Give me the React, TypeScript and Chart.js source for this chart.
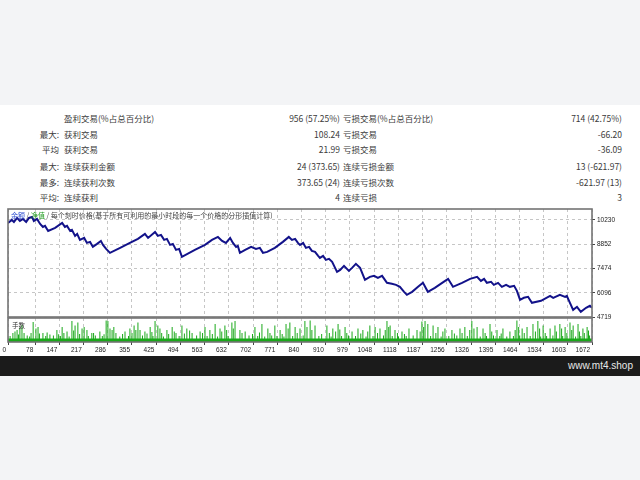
import React, { useEffect, useRef } from "react";
import { Chart, registerables } from "chart.js";

Chart.register(...registerables);

// ---------- data ----------
const xTickValues = [0, 78, 147, 217, 286, 355, 425, 494, 563, 632, 702, 771, 840, 910, 979, 1048, 1118, 1187, 1256, 1326, 1395, 1464, 1534, 1603, 1672];
const yTickValues = [4719, 6096, 7474, 8852, 10230];

const tradeNo = [
  0, 11, 17, 26, 34, 43, 52, 60, 69, 74,
  83, 92, 100, 106, 115, 135, 155, 163, 169, 178,
  183, 192, 198, 206, 218, 226, 235, 243, 255, 266,
  272, 281, 292, 321, 349, 372, 392, 401, 421, 429,
  438, 447, 455, 464, 472, 481, 490, 498, 535, 564,
  584, 601, 613, 624, 636, 644, 653, 658, 664, 679,
  696, 710, 721, 730, 742, 764, 787, 804, 813, 822,
  830, 836, 845, 853, 862, 870, 879, 888, 893, 902,
  910, 919, 928, 942, 951, 962, 976, 985, 996, 1008,
  1022, 1036, 1048, 1059, 1071, 1085, 1099, 1111, 1122, 1134,
  1142, 1157, 1174, 1188, 1202, 1222, 1243, 1260, 1274, 1300,
  1323, 1343, 1354, 1363, 1371, 1383, 1391, 1403, 1414, 1426,
  1437, 1449, 1457, 1466, 1477, 1489, 1500, 1526, 1552, 1561,
  1580, 1595, 1600, 1605, 1618, 1629, 1640, 1655, 1666, 1672,
];
const balance = [
  10060, 10230, 10117, 10343, 10173, 10287, 10117, 10343, 10400, 10173,
  10287, 10003, 9833, 9890, 9606, 9776, 10060, 9833, 9890, 9606,
  9663, 9323, 9436, 9096, 9209, 8926, 8983, 8699, 8869, 9039,
  8813, 8586, 8359, 8642, 8926, 9153, 9436, 9209, 9550, 9323,
  9380, 9096, 9153, 8813, 8869, 8529, 8586, 8132, 8529, 8813,
  9096, 9266, 9039, 8926, 9209, 8926, 8699, 8756, 8359, 8529,
  8699, 8586, 8642, 8359, 8416, 8642, 8983, 9266, 9096, 9153,
  8926, 8813, 8926, 8642, 8699, 8472, 8416, 8189, 8075, 8189,
  7962, 8019, 7849, 7282, 7395, 7622, 7338, 7508, 7735, 7508,
  6828, 6998, 7055, 6941, 7055, 6658, 6601, 6545, 6431, 6148,
  5978, 6148, 6431, 6658, 6148, 6374, 6658, 6885, 6431, 6658,
  6885, 6998, 6771, 6885, 6658, 6715, 6545, 6658, 6431, 6545,
  6431, 6488, 6204, 5694, 5808, 5865, 5524, 5638, 5921, 5808,
  5978, 5865, 5921, 5694, 5127, 5297, 5014, 5240, 5354, 5240,
];

// [trade number, lots]
const lotSpikes: [number, number][] = [
  [14, 0.3], [26, 0.4], [34, 0.47], [40, 0.57], [46, 0.3], [72, 0.67], [80, 0.45], [86, 0.5], [100, 0.3], [120, 0.25],
  [140, 0.4], [155, 0.5], [169, 0.35], [183, 0.7], [192, 0.55], [200, 0.65], [212, 0.45], [218, 0.5], [226, 0.4], [240, 0.3],
  [263, 0.35], [281, 0.72], [286, 0.7], [298, 0.4], [309, 0.3], [335, 0.35], [349, 0.45], [361, 0.55], [372, 0.65], [378, 0.4],
  [392, 0.35], [407, 0.5], [421, 0.7], [429, 0.55], [435, 0.45], [455, 0.4], [470, 0.5], [481, 0.3], [498, 0.55], [512, 0.45],
  [527, 0.3], [550, 0.35], [564, 0.5], [578, 0.4], [593, 0.6], [607, 0.45], [621, 0.55], [641, 0.65], [650, 0.7], [664, 0.4],
  [679, 0.35], [707, 0.5], [727, 0.6], [744, 0.45], [764, 0.55], [779, 0.4], [796, 0.6], [807, 0.65], [822, 0.5], [836, 0.45],
  [850, 0.7], [865, 0.72], [879, 0.55], [913, 0.55], [930, 0.45], [945, 0.6], [965, 0.5], [985, 0.35], [1002, 0.45], [1016, 0.4],
  [1036, 0.55], [1051, 0.5], [1065, 0.45], [1085, 0.7], [1094, 0.55], [1108, 0.4], [1128, 0.35], [1148, 0.45], [1171, 0.4], [1185, 0.68],
  [1194, 0.7], [1202, 0.6], [1217, 0.55], [1231, 0.5], [1251, 0.45], [1271, 0.4], [1294, 0.45], [1308, 0.5], [1328, 0.7], [1343, 0.5],
  [1360, 0.45], [1380, 0.6], [1400, 0.4], [1417, 0.45], [1437, 0.35], [1457, 0.72], [1472, 0.45], [1486, 0.5], [1503, 0.6], [1517, 0.7],
  [1532, 0.55], [1552, 0.45], [1566, 0.55], [1580, 0.6], [1595, 0.5], [1609, 0.65], [1618, 0.55], [1632, 0.6], [1646, 0.45], [1658, 0.5],
  [6, 0.2], [55, 0.22], [62, 0.18], [108, 0.2], [130, 0.22], [150, 0.2], [175, 0.18], [230, 0.2], [250, 0.22], [270, 0.2],
  [320, 0.18], [345, 0.2], [385, 0.22], [415, 0.2], [445, 0.18], [490, 0.2], [540, 0.22], [570, 0.2], [600, 0.18], [630, 0.2],
  [690, 0.22], [715, 0.2], [735, 0.18], [755, 0.22], [770, 0.2], [790, 0.18], [815, 0.2], [845, 0.22], [890, 0.2], [925, 0.18],
  [955, 0.2], [975, 0.22], [995, 0.2], [1025, 0.18], [1045, 0.2], [1075, 0.22], [1100, 0.2], [1118, 0.18], [1140, 0.2], [1160, 0.22],
  [1210, 0.2], [1240, 0.18], [1262, 0.2], [1285, 0.22], [1315, 0.2], [1352, 0.18], [1370, 0.2], [1390, 0.22], [1408, 0.2], [1428, 0.18],
  [1447, 0.2], [1465, 0.22], [1495, 0.2], [1525, 0.18], [1542, 0.2], [1560, 0.22], [1588, 0.2], [1625, 0.18], [1640, 0.2], [1665, 0.22],
  [20, 0.35], [30, 0.25], [66, 0.3], [90, 0.28], [112, 0.32], [145, 0.26], [160, 0.3], [188, 0.38], [205, 0.27], [245, 0.3],
  [275, 0.26], [292, 0.45], [303, 0.5], [328, 0.27], [355, 0.3], [366, 0.4], [398, 0.28], [412, 0.33], [440, 0.3], [460, 0.27],
  [476, 0.35], [505, 0.28], [520, 0.38], [557, 0.3], [585, 0.27], [612, 0.35], [626, 0.4], [645, 0.45], [670, 0.3], [700, 0.27],
  [720, 0.32], [750, 0.3], [785, 0.27], [802, 0.45], [828, 0.3], [856, 0.5], [870, 0.4], [898, 0.27], [920, 0.3], [938, 0.35],
  [950, 0.42], [970, 0.3], [1010, 0.28], [1030, 0.35], [1058, 0.3], [1080, 0.4], [1090, 0.5], [1115, 0.3], [1135, 0.27], [1180, 0.35],
  [1190, 0.5], [1225, 0.3], [1245, 0.35], [1278, 0.28], [1300, 0.3], [1322, 0.4], [1334, 0.45], [1366, 0.3], [1385, 0.35], [1412, 0.28],
  [1452, 0.4], [1462, 0.5], [1478, 0.3], [1510, 0.35], [1522, 0.45], [1538, 0.3], [1570, 0.35], [1585, 0.45], [1600, 0.3], [1614, 0.4],
  [1636, 0.35], [1650, 0.3], [1662, 0.38],
];
const minLotSpan = [0, 1672];
const minLot = 0.1;

const rowPrefixes = ["", "最大:", "平均", "最大:", "最多:", "平均:"];
const winLabels = ["盈利交易(%占总百分比)", "获利交易", "获利交易", "连续获利金额", "连续获利次数", "连续获利"];
const winValues = ["956 (57.25%)", "108.24", "21.99", "24 (373.65)", "373.65 (24)", "4"];
const lossLabels = ["亏损交易(%占总百分比)", "亏损交易", "亏损交易", "连续亏损金额", "连续亏损次数", "连续亏损"];
const lossValues = ["714 (42.75%)", "-66.20", "-36.09", "13 (-621.97)", "-621.97 (13)", "3"];

// ---------- styles ----------
const rowCenters = [118, 134, 148.5, 165.5, 182, 197];
const GRID = "#c6c6c6";
const FRAME = "#747474";
const GREEN = "#19a819";
const LINE = "#12128a";
const TICK_FONT = { size: 6.5, family: '"Liberation Sans", Arial, sans-serif' };
const CJK = '"Noto Sans CJK SC", "Noto Sans", sans-serif';

const framePlugin = {
  id: "frame",
  afterDraw(chart: any) {
    const { ctx, chartArea: a } = chart;
    ctx.save();
    ctx.strokeStyle = FRAME;
    ctx.lineWidth = 1.6;
    ctx.strokeRect(a.left, a.top, a.right - a.left, a.bottom - a.top);
    ctx.restore();
  },
};

export default function App() {
  const mainRef = useRef<HTMLCanvasElement>(null);
  const volRef = useRef<HTMLCanvasElement>(null);

  useEffect(() => {
    const main = new Chart(mainRef.current as HTMLCanvasElement, {
      type: "line",
      data: {
        datasets: [
          {
            data: tradeNo.map((t, i) => ({ x: t, y: balance[i] })),
            borderColor: LINE,
            borderWidth: 2,
            pointRadius: 0,
            tension: 0,
          },
        ],
      },
      options: {
        animation: false,
        responsive: false,
        maintainAspectRatio: false,
        layout: { padding: { left: 8, top: 9, right: 0, bottom: 8 } },
        plugins: { legend: { display: false }, tooltip: { enabled: false } },
        scales: {
          x: {
            type: "linear",
            min: 0,
            max: 1672,
            afterBuildTicks: (s: any) => {
              s.ticks = xTickValues.map((v) => ({ value: v }));
            },
            afterFit: (s: any) => {
              s.height = 0;
            },
            ticks: { display: false },
            grid: { color: GRID, drawTicks: false },
            border: { display: false, dash: [3, 3] },
          },
          y: {
            position: "right",
            min: 4719,
            max: 10850,
            afterBuildTicks: (s: any) => {
              s.ticks = yTickValues.map((v) => ({ value: v }));
            },
            afterFit: (s: any) => {
              s.width = 48;
            },
            ticks: {
              color: "#222",
              font: TICK_FONT,
              padding: 2,
              callback: (v: any) => String(v),
            },
            grid: { color: GRID, tickLength: 3, tickColor: "#444" },
            border: { display: false, dash: [3, 3] },
          },
        },
      },
      plugins: [framePlugin],
    } as any);

    const vol = new Chart(volRef.current as HTMLCanvasElement, {
      type: "line",
      data: {
        datasets: [
          {
            type: "line",
            data: minLotSpan.map((x) => ({ x, y: minLot })),
            borderColor: GREEN,
            backgroundColor: GREEN,
            borderWidth: 1,
            pointRadius: 0,
            fill: "origin",
          },
          {
            type: "bar",
            data: lotSpikes.map(([t, l]) => ({ x: t, y: l })),
            backgroundColor: GREEN,
            barThickness: 1,
            inflateAmount: 0,
            grouped: false,
          },
        ],
      },
      options: {
        animation: false,
        responsive: false,
        maintainAspectRatio: false,
        layout: { padding: { left: 8, top: 12, right: 48, bottom: 0 } },
        plugins: { legend: { display: false }, tooltip: { enabled: false } },
        scales: {
          x: {
            type: "linear",
            min: 0,
            max: 1672,
            offset: false,
            afterBuildTicks: (s: any) => {
              s.ticks = xTickValues.map((v) => ({ value: v }));
            },
            afterFit: (s: any) => {
              s.height = 14;
            },
            ticks: {
              color: "#222",
              font: TICK_FONT,
              padding: 1,
              align: "end",
              labelOffset: -2,
              maxRotation: 0,
              autoSkip: false,
              callback: (v: any) => String(v),
            },
            grid: { color: GRID, tickLength: 3, tickColor: "#444", offset: false },
            border: { display: false, dash: [3, 3] },
          },
          y: { display: false, min: 0, max: 0.8 },
        },
      },
      plugins: [framePlugin],
    } as any);

    return () => {
      main.destroy();
      vol.destroy();
    };
  }, []);

  const txt: React.CSSProperties = {
    position: "absolute",
    fontSize: 8.5,
    lineHeight: "12px",
    color: "#3a3a3a",
    whiteSpace: "nowrap",
    fontFamily: CJK,
  };

  return (
    <div
      style={{
        position: "fixed",
        left: 0,
        top: 0,
        width: 640,
        height: 480,
        background: "#f3f4f6",
        overflow: "hidden",
        fontFamily: CJK,
      }}
    >
      <div style={{ position: "absolute", left: 0, top: 105, width: 640, height: 251, background: "#ffffff" }} />

      {rowCenters.map((cy, i) => (
        <React.Fragment key={i}>
          <div style={{ ...txt, top: cy - 6, right: 640 - 59, textAlign: "right" }}>{rowPrefixes[i]}</div>
          <div style={{ ...txt, top: cy - 6, left: 64 }}>{winLabels[i]}</div>
          <div style={{ ...txt, top: cy - 6, right: 640 - 340, textAlign: "right" }}>{winValues[i]}</div>
          <div style={{ ...txt, top: cy - 6, left: 343 }}>{lossLabels[i]}</div>
          <div style={{ ...txt, top: cy - 6, right: 640 - 622, textAlign: "right" }}>{lossValues[i]}</div>
        </React.Fragment>
      ))}

      <canvas
        ref={mainRef}
        width={640}
        height={125}
        style={{ position: "absolute", left: 0, top: 200, width: 640, height: 125 }}
      />
      <canvas
        ref={volRef}
        width={640}
        height={50}
        style={{ position: "absolute", left: 0, top: 306, width: 640, height: 50 }}
      />

      <div
        style={{
          position: "absolute",
          left: 11,
          top: 210,
          fontSize: 7,
          lineHeight: "10px",
          color: "#444",
          whiteSpace: "nowrap",
          fontFamily: CJK,
        }}
      >
        <span style={{ color: "#2f4fd0" }}>余额</span>
        <span> / </span>
        <span style={{ color: "#1f9a1f" }}>净值</span>
        <span> / 每个刻时价格(基于所有可利用的最小时段的每一个价格的分形插值计算)</span>
      </div>
      <div
        style={{
          position: "absolute",
          left: 12,
          top: 320,
          fontSize: 6.5,
          lineHeight: "10px",
          color: "#333",
          whiteSpace: "nowrap",
          fontFamily: CJK,
        }}
      >
        手数
      </div>

      <div
        style={{
          position: "absolute",
          left: 0,
          top: 356,
          width: 640,
          height: 20,
          background: "#1b1b1b",
        }}
      >
        <div
          style={{
            position: "absolute",
            right: 7,
            top: 0,
            lineHeight: "20px",
            fontSize: 10,
            color: "#e8e8e8",
            fontFamily: '"Liberation Sans", Arial, sans-serif',
          }}
        >
          www.mt4.shop
        </div>
      </div>
    </div>
  );
}
